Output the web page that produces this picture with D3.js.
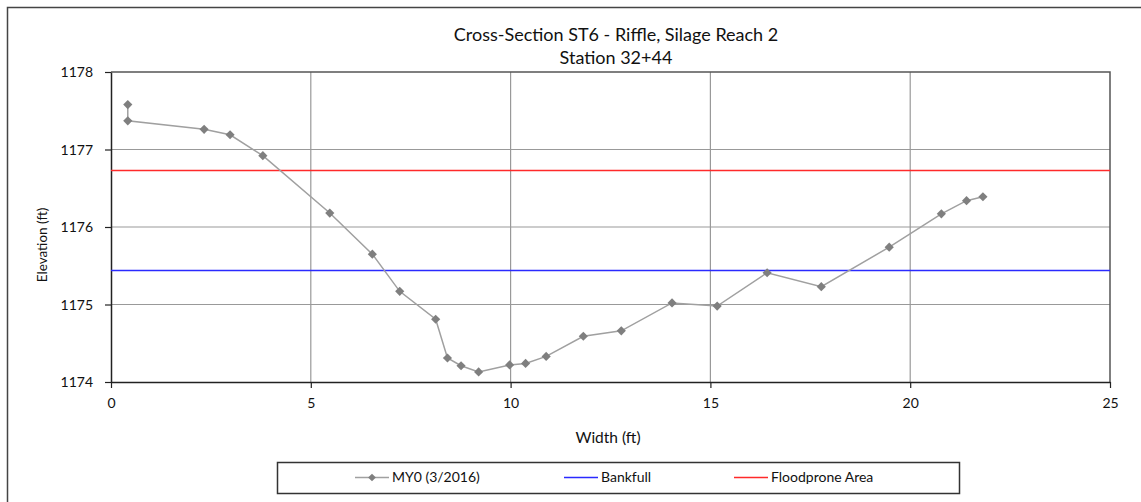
<!DOCTYPE html>
<html><head><meta charset="utf-8">
<script src="https://cdn.jsdelivr.net/npm/d3@7"></script>
<style>body{margin:0;background:#fff;} svg{display:block;}</style>
</head><body>
<svg id="c" width="1141" height="502"></svg>
<script>
const titleLines = ["Cross-Section ST6 - Riffle, Silage Reach 2", "Station 32+44"];
const widthFt = [0.42,0.42,2.33,2.98,3.8,5.475,6.54,7.225,8.125,8.42,8.76,9.2,9.975,10.375,10.89,11.82,12.77,14.04,15.17,16.42,17.775,19.475,20.78,21.41,21.82];
const elevFt  = [1177.58,1177.37,1177.26,1177.19,1176.92,1176.18,1175.65,1175.17,1174.81,1174.31,1174.21,1174.13,1174.22,1174.24,1174.33,1174.59,1174.66,1175.02,1174.98,1175.41,1175.23,1175.74,1176.17,1176.34,1176.39];
const bankfull = 1175.44;
const floodprone = 1176.73;
const xTicks = [0,5,10,15,20,25];
const yTicks = [1174,1175,1176,1177,1178];
const seriesNames = ["MY0 (3/2016)", "Bankfull", "Floodprone Area"];

const svg = d3.select("#c");
const L=111, R=1110, T=72, B=382;
const x = d3.scaleLinear().domain([0,25]).range([L,R]);
const y = d3.scaleLinear().domain([1174,1178]).range([B,T]);
const font = "Lato, 'Open Sans', sans-serif";

// outer border
svg.append("path").attr("d","M7.5,502 V7.5 H1141").attr("fill","none").attr("stroke","#444").attr("stroke-width",1.5);

// titles
svg.selectAll("text.title").data(titleLines).enter().append("text")
  .attr("x",616).attr("y",(d,i)=>41+i*22.5).attr("text-anchor","middle")
  .attr("font-family",font).attr("font-size",18).attr("fill","#111").text(d=>d);

// grid
svg.append("g").selectAll("line").data(xTicks.filter(d=>d>0&&d<25)).enter().append("line")
  .attr("x1",d=>x(d)).attr("x2",d=>x(d)).attr("y1",T).attr("y2",B).attr("stroke","#999").attr("stroke-width",1.2);
svg.append("g").selectAll("line").data(yTicks.filter(d=>d>1174&&d<1178)).enter().append("line")
  .attr("y1",d=>y(d)).attr("y2",d=>y(d)).attr("x1",L).attr("x2",R).attr("stroke","#999").attr("stroke-width",1.2);

// plot border top/right
svg.append("path").attr("d",`M${L},${T} H${R} V${B}`).attr("fill","none").attr("stroke","#555").attr("stroke-width",1.5);

// axes
const xAxis = svg.append("g").attr("transform",`translate(0,${B})`)
  .call(d3.axisBottom(x).tickValues(xTicks).tickSize(6).tickSizeOuter(0).tickFormat(d3.format("d")));
const yAxis = svg.append("g").attr("transform",`translate(${L},0)`)
  .call(d3.axisLeft(y).tickValues(yTicks).tickSize(6).tickSizeOuter(0).tickFormat(d3.format("d")));
[xAxis,yAxis].forEach(a=>{
  a.select(".domain").attr("stroke","#222").attr("stroke-width",1.5);
  a.selectAll(".tick line").attr("stroke","#222").attr("stroke-width",1.2);
  a.selectAll("text").attr("font-family",font).attr("font-size",14).attr("fill","#111");
});
xAxis.selectAll("text").attr("dy","0").attr("y",26);
yAxis.selectAll("text").attr("x",-18).attr("dy","0.35em");

// axis titles
svg.append("text").attr("x",608).attr("y",443).attr("text-anchor","middle")
  .attr("font-family",font).attr("font-size",15.5).attr("fill","#111").text("Width (ft)");
svg.append("text").attr("transform","translate(47,245) rotate(-90)").attr("text-anchor","middle")
  .attr("font-family",font).attr("font-size",13.5).attr("fill","#111").text("Elevation (ft)");

// reference lines
svg.append("line").attr("x1",L).attr("x2",R).attr("y1",y(floodprone)).attr("y2",y(floodprone)).attr("stroke","#ff2a2a").attr("stroke-width",1.5);
svg.append("line").attr("x1",L).attr("x2",R).attr("y1",y(bankfull)).attr("y2",y(bankfull)).attr("stroke","#2a2aff").attr("stroke-width",1.5);

// data series
const pts = widthFt.map((w,i)=>[w,elevFt[i]]);
svg.append("path").datum(pts).attr("fill","none").attr("stroke","#a0a0a0").attr("stroke-width",1.5)
  .attr("d",d3.line().x(d=>x(d[0])).y(d=>y(d[1])));
svg.append("g").selectAll("path").data(pts).enter().append("path")
  .attr("transform",d=>`translate(${x(d[0])},${y(d[1])}) rotate(45)`)
  .attr("d",d3.symbol().type(d3.symbolSquare).size(42)).attr("fill","#7f7f7f");

// legend
svg.append("rect").attr("x",277.5).attr("y",462.5).attr("width",682).attr("height",31)
  .attr("fill","#fff").attr("stroke","#333").attr("stroke-width",1.5);
const legItems = [
  {name:seriesNames[0], x1:355, x2:389, tx:392, color:"#a0a0a0", marker:true},
  {name:seriesNames[1], x1:564, x2:598, tx:601, color:"#2a2aff"},
  {name:seriesNames[2], x1:734, x2:768, tx:771, color:"#ff2a2a"}
];
const lg = svg.append("g").selectAll("g").data(legItems).enter().append("g");
lg.append("line").attr("x1",d=>d.x1).attr("x2",d=>d.x2).attr("y1",477.5).attr("y2",477.5)
  .attr("stroke",d=>d.color).attr("stroke-width",1.5);
lg.filter(d=>d.marker).append("path").attr("transform",d=>`translate(${(d.x1+d.x2)/2},477.5) rotate(45)`)
  .attr("d",d3.symbol().type(d3.symbolSquare).size(30)).attr("fill","#7f7f7f");
lg.append("text").attr("x",d=>d.tx).attr("y",477.5).attr("dy","0.35em")
  .attr("font-family",font).attr("font-size",14).attr("fill","#111").text(d=>d.name);
</script>
</body></html>
